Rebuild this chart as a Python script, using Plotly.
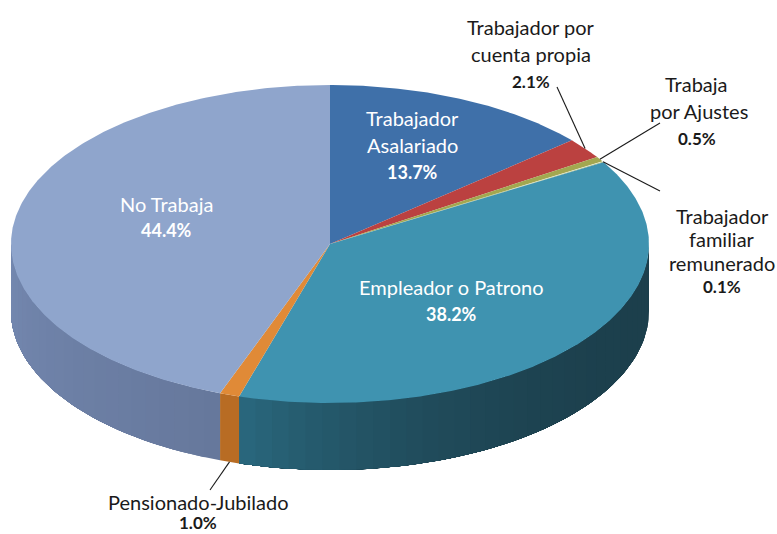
import numpy as np
import plotly.graph_objects as go

categories = ["Trabajador Asalariado", "Trabajador por cuenta propia", "Trabaja por Ajustes",
              "Trabajador familiar remunerado", "Empleador o Patrono", "Pensionado-Jubilado", "No Trabaja"]
values = [13.7, 2.1, 0.5, 0.1, 38.2, 1.0, 44.4]
top_colors = ["#3f70a9", "#bb4140", "#a3a750", "#9db060", "#3f93b0", "#e08a37", "#8fa5cc"]
# wall colour at the clockwise start and end of each slice's visible wall
wall_start = ["#2a5a80", "#8a3030", "#777a3a", "#777a3a", "#1c3f4c", "#b86c24", "#66789c"]
wall_end = ["#2a5a80", "#8a3030", "#777a3a", "#777a3a", "#2a687e", "#b86c24", "#7488b0"]
wall_power = [1, 1, 1, 1, 3, 1, 1]

CX, CY, RX, RY, DEPTH = 330, 244, 319, 159, 67


def pt(deg, dy=0):
    a = np.radians(deg)
    return CX + RX * np.sin(a), CY - RY * np.cos(a) + dy


def rgb(h):
    return np.array([int(h[i:i + 2], 16) for i in (1, 3, 5)], float)


def mix(a, b, t):
    c = rgb(a) * (1 - t) + rgb(b) * t
    return f"rgb({c[0]:.0f},{c[1]:.0f},{c[2]:.0f})"


fig = go.Figure()


def poly(xs, ys, color):
    fig.add_trace(go.Scatter(x=xs, y=ys, mode="lines", fill="toself", fillcolor=color,
                             line=dict(width=0), hoverinfo="skip", showlegend=False))


edges = np.concatenate([[0], np.cumsum(values)]) / sum(values) * 360

# side wall: strips laid in order, each running on to the slice end so no seams show
for i in range(len(values)):
    lo, hi = max(edges[i], 90), min(edges[i + 1], 270)
    if hi <= lo:
        continue
    n = max(1, int((hi - lo) / 3))
    steps = np.linspace(lo, hi, n + 1)
    for k in range(n):
        t = ((k + 0.5) / n) ** wall_power[i]
        aa = np.linspace(steps[k], hi, max(4, int((hi - steps[k]) / 1.5)))
        x0, y0 = pt(aa, 0)
        x1, y1 = pt(aa[::-1], DEPTH)
        poly(np.r_[x0, x1, x0[0]], np.r_[y0, y1, y0[0]], mix(wall_start[i], wall_end[i], t))

# top face
for i in range(len(values)):
    aa = np.linspace(edges[i], edges[i + 1], max(3, int(values[i] * 8)))
    x, y = pt(aa)
    poly(np.r_[CX, x, CX], np.r_[CY, y, CY], top_colors[i])

# leader lines, from the slice rim to the label
leaders = [(1, 557, 87), (2, 660, 123), (3, 660, 191), (5, 210, 490)]
for idx, ox, oy in leaders:
    mid = (edges[idx] + edges[idx + 1]) / 2
    x, y = pt(mid, DEPTH if idx == 5 else 0)
    fig.add_trace(go.Scatter(x=[x, ox], y=[y, oy], mode="lines", line=dict(color="#1a1a1a", width=1.1),
                             hoverinfo="skip", showlegend=False))

WHITE, DARK = "#ffffff", "#1a1a1a"
labels = [
    ("Trabajador", 412, 118, WHITE, False, 20), ("Asalariado", 412, 145, WHITE, False, 20), ("13.7%", 412, 172, WHITE, True, 18),
    ("Trabajador por", 531, 27, DARK, False, 20), ("cuenta propia", 531, 54, DARK, False, 20), ("2.1%", 531, 81, DARK, True, 17),
    ("Trabaja", 696, 84, DARK, False, 20), ("por Ajustes", 699, 111, DARK, False, 20), ("0.5%", 697, 138, DARK, True, 17),
    ("Trabajador", 722, 216, DARK, False, 20), ("familiar", 722, 239, DARK, False, 20),
    ("remunerado", 722, 263, DARK, False, 20), ("0.1%", 722, 286, DARK, True, 17),
    ("Empleador o Patrono", 451, 287, WHITE, False, 20), ("38.2%", 451, 314, WHITE, True, 18),
    ("No Trabaja", 166, 204, WHITE, False, 20), ("44.4%", 166, 230, WHITE, True, 18),
    ("Pensionado-Jubilado", 198, 502, DARK, False, 20), ("1.0%", 198, 522, DARK, True, 17),
]
for text, x, y, color, bold, size in labels:
    fig.add_annotation(x=x, y=y, text=f"<b>{text}</b>" if bold else text, showarrow=False,
                       xanchor="center", yanchor="middle",
                       font=dict(family="Lato", size=size, color=color))

fig.update_layout(width=777, height=534, margin=dict(l=0, r=0, t=0, b=0),
                  paper_bgcolor="white", plot_bgcolor="white", showlegend=False,
                  xaxis=dict(range=[0, 777], visible=False, fixedrange=True),
                  yaxis=dict(range=[534, 0], visible=False, fixedrange=True))
fig.write_html("out.html", config=dict(displayModeBar=False),
               post_script="document.body.style.margin='0';document.documentElement.style.overflow='hidden';")
